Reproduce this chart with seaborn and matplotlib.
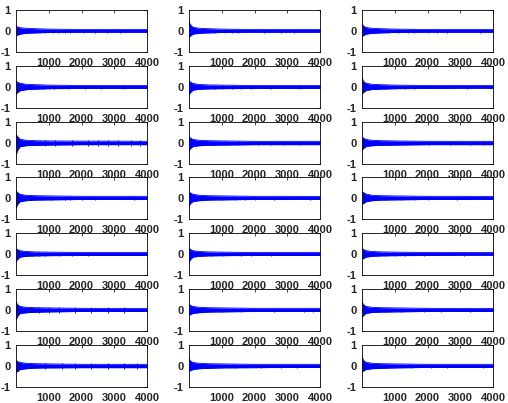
import numpy as np
import pandas as pd
import matplotlib
matplotlib.use("Agg")
import matplotlib.pyplot as plt
import seaborn as sns

# envelope sample positions (sample index)
XS = [0, 40, 120, 300, 600, 1000, 2000, 3000, 4000]

# upper / lower envelope of each trace, row-major like subplot(7,3,k)
UPPER = [
    [0.22, 0.20, 0.16, 0.13, 0.11, 0.09, 0.07, 0.07, 0.07],
    [0.45, 0.30, 0.18, 0.13, 0.11, 0.09, 0.07, 0.07, 0.07],
    [0.37, 0.24, 0.17, 0.13, 0.11, 0.09, 0.07, 0.07, 0.07],
    [0.27, 0.24, 0.18, 0.13, 0.11, 0.09, 0.07, 0.07, 0.07],
    [0.30, 0.24, 0.17, 0.12, 0.10, 0.09, 0.07, 0.07, 0.07],
    [0.46, 0.28, 0.18, 0.13, 0.11, 0.09, 0.07, 0.07, 0.07],
    [0.42, 0.32, 0.18, 0.13, 0.11, 0.10, 0.09, 0.09, 0.08],
    [0.30, 0.24, 0.17, 0.13, 0.11, 0.10, 0.08, 0.08, 0.08],
    [0.30, 0.24, 0.17, 0.13, 0.11, 0.10, 0.08, 0.08, 0.08],
    [0.35, 0.27, 0.18, 0.13, 0.11, 0.10, 0.08, 0.08, 0.08],
    [0.30, 0.24, 0.18, 0.13, 0.11, 0.10, 0.08, 0.08, 0.07],
    [0.30, 0.27, 0.19, 0.13, 0.11, 0.10, 0.08, 0.08, 0.07],
    [0.24, 0.22, 0.16, 0.12, 0.10, 0.09, 0.07, 0.07, 0.07],
    [0.28, 0.22, 0.16, 0.12, 0.10, 0.09, 0.07, 0.07, 0.07],
    [0.28, 0.22, 0.16, 0.12, 0.10, 0.09, 0.07, 0.07, 0.07],
    [0.40, 0.27, 0.17, 0.13, 0.11, 0.10, 0.08, 0.07, 0.07],
    [0.28, 0.22, 0.17, 0.13, 0.11, 0.10, 0.08, 0.08, 0.08],
    [0.40, 0.27, 0.17, 0.13, 0.11, 0.10, 0.08, 0.07, 0.07],
    [0.27, 0.22, 0.17, 0.13, 0.11, 0.10, 0.08, 0.08, 0.08],
    [0.35, 0.24, 0.17, 0.13, 0.11, 0.10, 0.08, 0.08, 0.08],
    [0.47, 0.27, 0.18, 0.13, 0.11, 0.10, 0.08, 0.08, 0.08],
]
LOWER = [
    [-0.22, -0.20, -0.15, -0.11, -0.09, -0.07, -0.06, -0.06, -0.06],
    [-0.30, -0.24, -0.15, -0.11, -0.09, -0.07, -0.06, -0.06, -0.06],
    [-0.27, -0.22, -0.15, -0.11, -0.09, -0.07, -0.06, -0.06, -0.06],
    [-0.35, -0.27, -0.18, -0.13, -0.10, -0.08, -0.07, -0.07, -0.07],
    [-0.38, -0.27, -0.15, -0.11, -0.09, -0.08, -0.07, -0.07, -0.07],
    [-0.33, -0.27, -0.17, -0.12, -0.10, -0.08, -0.07, -0.06, -0.06],
    [-0.60, -0.37, -0.18, -0.13, -0.11, -0.10, -0.08, -0.08, -0.08],
    [-0.38, -0.27, -0.17, -0.13, -0.11, -0.10, -0.08, -0.08, -0.08],
    [-0.35, -0.27, -0.17, -0.13, -0.11, -0.10, -0.08, -0.08, -0.08],
    [-0.50, -0.32, -0.18, -0.13, -0.10, -0.09, -0.07, -0.07, -0.07],
    [-0.40, -0.27, -0.17, -0.13, -0.10, -0.09, -0.07, -0.07, -0.07],
    [-0.30, -0.27, -0.18, -0.13, -0.10, -0.09, -0.07, -0.07, -0.07],
    [-0.37, -0.27, -0.15, -0.11, -0.09, -0.08, -0.07, -0.07, -0.07],
    [-0.43, -0.27, -0.15, -0.11, -0.09, -0.08, -0.07, -0.07, -0.07],
    [-0.25, -0.22, -0.15, -0.11, -0.09, -0.08, -0.07, -0.06, -0.06],
    [-0.48, -0.32, -0.17, -0.13, -0.11, -0.09, -0.07, -0.07, -0.07],
    [-0.25, -0.22, -0.16, -0.13, -0.10, -0.09, -0.07, -0.07, -0.07],
    [-0.35, -0.27, -0.16, -0.12, -0.10, -0.09, -0.07, -0.07, -0.07],
    [-0.30, -0.27, -0.17, -0.13, -0.10, -0.09, -0.08, -0.08, -0.08],
    [-0.25, -0.22, -0.17, -0.13, -0.11, -0.09, -0.08, -0.07, -0.07],
    [-0.30, -0.24, -0.17, -0.13, -0.11, -0.09, -0.07, -0.07, -0.07],
]

# isolated peaks sticking out of the band
SPIKE_X = [
    [900, 1130, 1280, 1500, 1650, 2050, 2420, 2780, 3180],
    [800, 1100, 1300, 1500, 2300, 2800, 3200],
    [800, 1100, 1400, 1600, 2000, 2300, 2600, 3600],
    [700, 850, 1000, 1150, 1600, 2100, 2600, 3300],
    [800, 1000, 1300, 1600, 1900, 2500, 3400],
    [700, 1000, 1300, 1600, 3200],
    [900, 1200, 1700, 2200, 2500, 2800, 3100, 3500, 3800],
    [800, 1100, 1500, 2100, 2500, 2900, 3400],
    [800, 1300, 2000, 2700, 3300, 3700],
    [800, 1100, 1500, 1650, 2000, 2400, 3600],
    [700, 1000, 1400, 1700, 2000, 2600, 3700],
    [700, 1200, 1600, 2000, 2900],
    [700, 900, 1300, 1700, 2200],
    [700, 1000, 1600, 1900, 2500],
    [700, 1000, 1300, 1900, 3100],
    [700, 1000, 1300, 1800, 2300, 2800, 3300],
    [700, 1000, 1600, 2600, 3500, 3800],
    [800, 1200, 1900, 2400, 3300],
    [900, 1400, 1800, 2300, 2800, 3300, 3700],
    [700, 1000, 1400, 2200, 2800, 3300],
    [700, 1000, 1500, 2100, 2600, 3700],
]
SPIKE_A = [0.11, 0.11, 0.11, 0.11, 0.11, 0.11, 0.12, 0.11, 0.11, 0.11, 0.11,
           0.11, 0.11, 0.11, 0.11, 0.12, 0.11, 0.11, 0.12, 0.11, 0.11]

X_TICKS = [1000, 2000, 3000, 4000]
Y_TICKS = [-1, 0, 1]

sns.set_style("white")
plt.rcParams["font.family"] = ["Liberation Sans", "DejaVu Sans"]
plt.rcParams["font.weight"] = "bold"

fig = plt.figure(figsize=(5.08, 4.03), dpi=100)
W, H = 508, 403
col_left = [16, 189, 362]
ax_w = 131
row_top = [10, 66, 122, 177, 233, 289, 345]
ax_h = 42

for k in range(21):
    r, c = divmod(k, 3)
    ax = fig.add_axes([col_left[c] / W, (H - row_top[r] - ax_h) / H, ax_w / W, ax_h / H])
    df = pd.DataFrame({"x": XS, "up": UPPER[k], "lo": LOWER[k]})
    ax.fill_between(df["x"], df["lo"], df["up"], color="#0000ff", linewidth=0,
                    antialiased=False)
    sns.lineplot(data=df, x="x", y="up", ax=ax, color="#0000ff", linewidth=0.6)
    sns.lineplot(data=df, x="x", y="lo", ax=ax, color="#0000ff", linewidth=0.6)
    a = SPIKE_A[k]
    ax.vlines(SPIKE_X[k], -a, a, color="#0000ff", linewidth=0.6)
    ax.set_xlim(0, 4000)
    ax.set_ylim(-1, 1)
    ax.set_xticks(X_TICKS)
    ax.set_yticks(Y_TICKS)
    ax.set_xticklabels([str(t) for t in X_TICKS])
    ax.set_yticklabels(["-1", "0", "1"])
    ax.set_xlabel("")
    ax.set_ylabel("")
    ax.tick_params(direction="in", length=2, width=0.6, labelsize=8,
                   top=True, right=True, pad=4)
    for s in ax.spines.values():
        s.set_linewidth(0.6)
        s.set_color("black")
        s.set_visible(True)

fig.savefig("out.png", dpi=100)
